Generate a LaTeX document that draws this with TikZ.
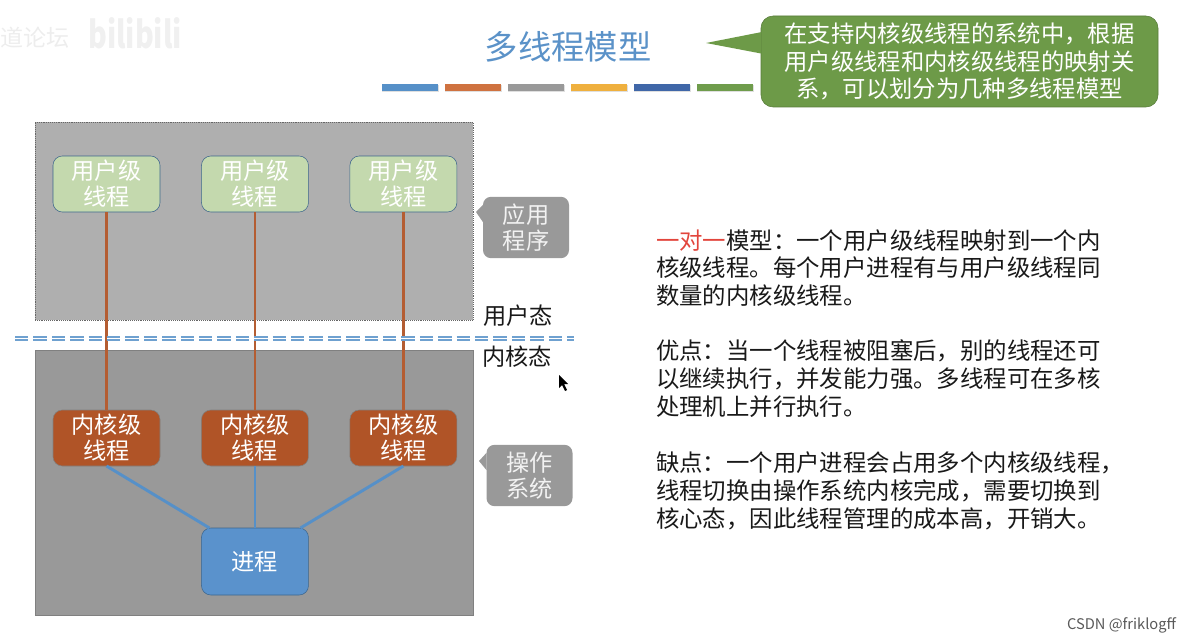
\documentclass[tikz,border=0pt]{standalone}
\usepackage{fontspec}
\setmainfont{Noto Sans CJK SC}
\usepackage{xcolor}
\usetikzlibrary{positioning,shadows}
\definecolor{BarBlue}{HTML}{5690C8}
\definecolor{BarOrange}{HTML}{CF7240}
\definecolor{BarGray}{HTML}{999999}
\definecolor{BarYellow}{HTML}{EFB03E}
\definecolor{BarNavy}{HTML}{4067A8}
\definecolor{BarGreen}{HTML}{6F9C4C}
\definecolor{UserArea}{HTML}{AFAFAF}
\definecolor{KernelArea}{HTML}{999999}
\definecolor{UserFill}{HTML}{C4D9AE}
\definecolor{KernelFill}{HTML}{B05427}
\definecolor{ProcFill}{HTML}{5A92CC}
\definecolor{NoteFill}{HTML}{6D9A48}
\definecolor{TitleBlue}{HTML}{5B92C8}
\definecolor{OneRed}{HTML}{E2453C}
\begin{document}
\begin{tikzpicture}[
  x=0.75pt, y=-0.75pt,
  every node/.style={outer sep=0pt, inner sep=0pt, align=center},
  bodyfont/.style={font=\fontsize{17.4}{19.6}\selectfont},
  area/.style={rectangle, minimum width=328.5pt},
  tbox/.style={rectangle, rounded corners=7pt, draw=#1, minimum width=80.25pt,
               minimum height=42pt, bodyfont, text=white},
  tag/.style={rectangle, rounded corners=6pt, fill=BarGray, minimum width=64.5pt,
              minimum height=46pt, bodyfont, text=white!95!black},
  barline/.style={rectangle, fill=#1, minimum width=42.4pt, minimum height=5pt,
                  drop shadow={shadow xshift=0.3pt, shadow yshift=-1pt, opacity=0.25}},
  para/.style={anchor=west, align=left, text=black!90,
               font=\fontsize{17.55}{20.8}\selectfont},
  tier/.style={bodyfont, text=black!90},
  brownline/.style={draw=KernelFill!95!white, line width=2.2pt},
  blueline/.style={draw=BarBlue, line width=2.2pt}
]
  \useasboundingbox (0,0) rectangle (1189,642);

  % watermark
  \node[text=black!7, font=\fontsize{17.3}{20}\selectfont] (wmcn) at (35,38) {道论坛};
  \node[text=black!6, yscale=1.3, font=\fontsize{21.5}{24}\selectfont\bfseries] (wmbili) at (135,33) {bilibili};

  % title and bars
  \node[text=TitleBlue, font=\fontsize{25}{28}\selectfont] (title) at (568,47) {多线程模型};
  \node[barline=BarBlue] (b1) at (410,87.5) {};
  \node[barline=BarOrange, right=4.85pt of b1] (b2) {};
  \node[barline=BarGray, right=4.85pt of b2] (b3) {};
  \node[barline=BarYellow, right=4.85pt of b3] (b4) {};
  \node[barline=BarNavy, right=4.85pt of b4] (b5) {};
  \node[barline=BarGreen, right=4.85pt of b5] (b6) {};

  % green note
  \node[rectangle, rounded corners=9pt, fill=NoteFill, draw=NoteFill!80!black,
        minimum width=297.75pt, minimum height=68.25pt, text=white,
        font=\fontsize{17.5}{20.6}\selectfont] (note) at (959.5,61.5) {
    在支持内核级线程的系统中，根据\\
    用户级线程和内核级线程的映射关\\
    系，可以划分为几种多线程模型
  };
  \coordinate (notetip) at (706,43);
  \fill[NoteFill] (notetip) -- ([yshift=22pt]note.west) -- ([yshift=6pt]note.west) -- cycle;

  % areas
  \node[area, fill=UserArea, draw=black!60, densely dotted, minimum height=148.5pt] (uarea) at (254,221) {};
  \node[area, fill=KernelArea, draw=black!50, minimum height=198.75pt] (karea) at (254,482.5) {};

  % threads
  \node[tbox=BarBlue!70!black, fill=UserFill] (u1) at (106.5,184) {用户级\\线程};
  \node[tbox=BarBlue!70!black, fill=UserFill, right=31.1pt of u1] (u2) {用户级\\线程};
  \node[tbox=BarBlue!70!black, fill=UserFill, right=31.1pt of u2] (u3) {用户级\\线程};
  \node[tbox=black!50, fill=KernelFill, below=148.5pt of u1] (k1) {内核级\\线程};
  \node[tbox=black!50, fill=KernelFill, below=148.5pt of u2] (k2) {内核级\\线程};
  \node[tbox=black!50, fill=KernelFill, below=148.5pt of u3] (k3) {内核级\\线程};
  \node[tbox=BarBlue!70!black, fill=ProcFill, minimum height=50.25pt, below=46.5pt of k2] (proc) {进程};

  \draw[brownline] (u1) -- (k1);
  \draw[brownline] (u2) -- (k2);
  \draw[brownline] (u3) -- (k3);
  \draw[blueline] (k1.south) -- ([xshift=6pt]proc.north west);
  \draw[blueline] (k2) -- (proc);
  \draw[blueline] (k3.south) -- ([xshift=-6pt]proc.north east);

  % user / kernel border
  \coordinate (sepleft) at (15,338.5);
  \coordinate (sepright) at (574,338.5);
  \draw[draw=BarBlue!85!white, line width=1.7pt, double=white, double distance=0.8pt,
        dash pattern=on 10pt off 3.8pt] (sepleft) -- (sepright);
  \node[tier] (ulabel) at (518,316) {用户态};
  \node[tier] (klabel) at (517,357) {内核态};

  % tags
  \node[tag] (apptag) at (526,227.5) {应用\\程序};
  \coordinate (apptip) at (476,212);
  \fill[BarGray] (apptip) -- ([yshift=17pt]apptag.west) -- ([yshift=4pt]apptag.west) -- cycle;
  \node[tag] (ostag) at (529.5,475.5) {操作\\系统};
  \coordinate (ostip) at (479,461);
  \fill[BarGray] (ostip) -- ([yshift=17pt]ostag.west) -- ([yshift=4pt]ostag.west) -- cycle;

  % cursor
  \fill[black] (559,375) -- (559,388) -- (562,385) -- (565,391) -- (567,390) -- (564,384) -- (568,384) -- cycle;

  % text on the right
  \node[para] (p1) at (656,268) {
    \textcolor{OneRed}{一对一}模型：一个用户级线程映射到一个内\\
    核级线程。每个用户进程有与用户级线程同\\
    数量的内核级线程。
  };
  \node[para] (p2) at (656,378.5) {
    优点：当一个线程被阻塞后，别的线程还可\\
    以继续执行，并发能力强。多线程可在多核\\
    处理机上并行执行。
  };
  \node[para] (p3) at (656,491) {
    缺点：一个用户进程会占用多个内核级线程，\\
    线程切换由操作系统内核完成，需要切换到\\
    核心态，因此线程管理的成本高，开销大。
  };

  \node[text=black!65, font=\fontsize{11}{13}\selectfont, anchor=east] (mark) at (1176,625) {CSDN @friklogff};
\end{tikzpicture}
\end{document}
